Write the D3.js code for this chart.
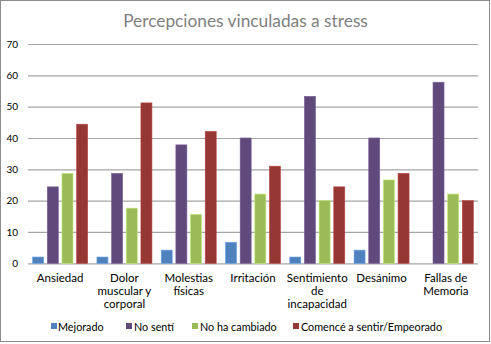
<!DOCTYPE html>
<html><head><meta charset="utf-8">
<script src="https://cdn.jsdelivr.net/npm/d3@7"></script>
<style>body{margin:0;background:#fff}svg{display:block}</style>
</head><body>
<svg id="c" width="491" height="344"></svg>
<script>
const categories = [["Ansiedad"],["Dolor","muscular y","corporal"],["Molestias","físicas"],["Irritación"],["Sentimiento","de","incapacidad"],["Desánimo"],["Fallas de","Memoria"]];
const seriesNames = ["Mejorado","No sentí","No ha cambiado","Comencé a sentir/Empeorado"];
const mejorado = [2.0, 2.0, 4.2, 6.7, 2.0, 4.2, 0];
const noSenti = [24.4, 28.7, 37.8, 40.0, 53.3, 40.0, 57.8];
const noHaCambiado = [28.7, 17.6, 15.6, 22.1, 20.0, 26.6, 22.1];
const empeorado = [44.4, 51.2, 42.1, 31.0, 24.4, 28.7, 20.0];
const yTicks = [0,10,20,30,40,50,60,70];
const colors = ["#4F81BD","#604A7B","#9BBB59","#953735"];
const title = "Percepciones vinculadas a stress";

const values = [mejorado, noSenti, noHaCambiado, empeorado];
const font = "Lato, 'Open Sans', sans-serif";
const svg = d3.select("#c");
svg.append("rect").attr("x",0.5).attr("y",0.5).attr("width",489).attr("height",341)
  .attr("fill","#fff").attr("stroke","#8c8c8c").attr("stroke-width",1);

const x0 = d3.scaleBand().domain(d3.range(categories.length)).range([28,478]).paddingInner(0).paddingOuter(0);
const x1 = d3.scaleBand().domain(d3.range(seriesNames.length)).range([0,x0.bandwidth()]).paddingInner(0.25).paddingOuter(0.317);
const y = d3.scaleLinear().domain([0,70]).range([263.3,44]);

// grid
const yAxis = d3.axisLeft(y).tickValues(yTicks).tickSize(-(450)).tickFormat(d3.format("d"));
const ga = svg.append("g").attr("transform","translate(28,0)").call(yAxis);
ga.select(".domain").remove();
ga.selectAll(".tick line").attr("stroke","#a6a6a6").attr("stroke-width",1.2);
ga.selectAll(".tick text").attr("x",-10).attr("fill","#000").style("font-family",font).style("font-size","10px");

// bars
const g = svg.append("g");
categories.forEach((c,i)=>{
  values.forEach((arr,s)=>{
    const v = arr[i];
    if(v<=0) return;
    g.append("rect").attr("x",x0(i)+x1(s)).attr("y",y(v)).attr("width",x1.bandwidth()).attr("height",y(0)-y(v))
      .attr("fill",colors[s]).attr("stroke",d3.color(colors[s]).brighter(0.6)).attr("stroke-width",0.6);
  });
});

// x labels
categories.forEach((lines,i)=>{
  const t = svg.append("text").attr("text-anchor","middle").style("font-family",font).style("font-size","11.5px").attr("fill","#000");
  lines.forEach((l,k)=>t.append("tspan").attr("x",x0(i)+x0.bandwidth()/2).attr("y",282+k*13).text(l));
});

// title
const tt = svg.append("text").attr("x",245.5).attr("y",27).attr("text-anchor","middle").attr("fill","#7f7f7f")
  .style("font-family",font).style("font-size","18px").text(title);
const tw = tt.node().getComputedTextLength();
tt.style("font-size",(18*245/tw)+"px");

// legend
const legX = [51,126,192,293];
const legTX = [58,134,200,301];
seriesNames.forEach((n,s)=>{
  svg.append("rect").attr("x",legX[s]).attr("y",323).attr("width",6).attr("height",6).attr("fill",colors[s]);
  svg.append("text").attr("x",legTX[s]).attr("y",331).style("font-family",font).style("font-size","10.8px").attr("fill","#000").text(n);
});
</script>
</body></html>
